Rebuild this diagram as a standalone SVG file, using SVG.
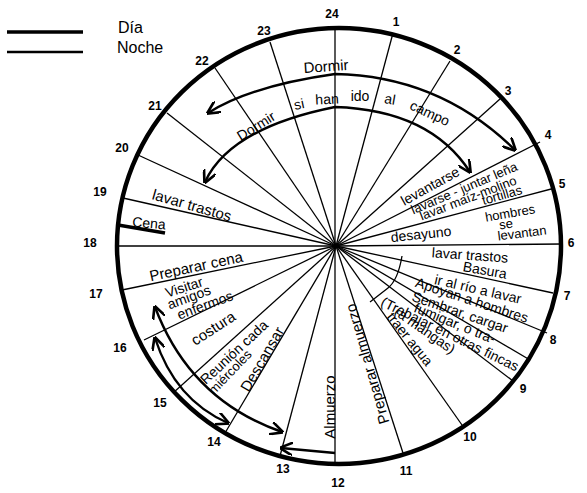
<svg xmlns="http://www.w3.org/2000/svg" width="587" height="493" viewBox="0 0 587 493">
<style>
.t{font-family:"Liberation Sans",Arial,sans-serif;font-size:14px;fill:#000;text-anchor:middle;dominant-baseline:central}
.h{font-family:"Liberation Sans",Arial,sans-serif;font-size:12px;font-weight:bold;fill:#000;text-anchor:middle;dominant-baseline:central}
.r{stroke:#000;stroke-width:1.3;fill:none}
.a{stroke:#000;stroke-width:2.4;fill:none}
</style>
<defs>
<marker id="ar" viewBox="0 0 10 10" refX="9" refY="5" markerWidth="5.5" markerHeight="5.5" orient="auto-start-reverse" markerUnits="strokeWidth">
<path d="M0,0 L10,5 L0,10" fill="none" stroke="#000" stroke-width="2"/>
</marker>
</defs>
<rect width="587" height="493" fill="#fff"/>
<g id="legend">
<line x1="7" y1="32" x2="83" y2="32" stroke="#000" stroke-width="3.5"/>
<line x1="7" y1="52" x2="83" y2="52" stroke="#000" stroke-width="2.7"/>
<text class="t" x="118" y="27" style="text-anchor:start;font-size:16px">Día</text>
<text class="t" x="117" y="47" style="text-anchor:start;font-size:16px">Noche</text>
</g>
<g id="clock">
<ellipse cx="339" cy="246" rx="222" ry="218" fill="none" stroke="#000" stroke-width="4.5"/>
</g>
<g id="connectors">
<g class="r">
<line x1="335" y1="246" x2="335" y2="28"/>
<line x1="336" y1="246" x2="393" y2="33"/>
<line x1="336" y1="246" x2="450" y2="61"/>
<line x1="336" y1="246" x2="500" y2="99"/>
<line x1="336" y1="246" x2="540" y2="142"/>
<line x1="336" y1="246" x2="555" y2="188"/>
<line x1="336" y1="246" x2="562" y2="244"/>
<line x1="336" y1="246" x2="553" y2="293"/>
<line x1="336" y1="246" x2="547" y2="333"/>
<line x1="336" y1="246" x2="530" y2="360"/>
<line x1="336" y1="246" x2="513" y2="381"/>
<line x1="336" y1="246" x2="462" y2="425"/>
<line x1="336" y1="246" x2="403" y2="453"/>
<line x1="335" y1="246" x2="335" y2="465"/>
<line x1="336" y1="246" x2="280" y2="456"/>
<line x1="336" y1="246" x2="225" y2="433"/>
<line x1="336" y1="246" x2="173" y2="393"/>
<line x1="336" y1="246" x2="144" y2="340"/>
<line x1="336" y1="246" x2="122" y2="290"/>
<line x1="336" y1="246" x2="117" y2="246"/>
<line x1="336" y1="246" x2="123" y2="198"/>
<line x1="336" y1="246" x2="138" y2="155"/>
<line x1="336" y1="246" x2="167" y2="113"/>
<line x1="336" y1="246" x2="215" y2="68"/>
<line x1="336" y1="246" x2="270" y2="42"/>
<path d="M402,256 Q398,280 388,288 L370,302"/>
</g>
<path class="a" d="M208,113 Q250,86 335,74 Q440,76 515,150" marker-start="url(#ar)" marker-end="url(#ar)"/>
<path class="a" d="M205,182 Q230,128 335,107 Q430,110 470,172" marker-start="url(#ar)" marker-end="url(#ar)"/>
<path class="a" d="M155,307 Q190,400 282,432" marker-start="url(#ar)" marker-end="url(#ar)"/>
<path class="a" d="M155,338 Q175,400 228,423" marker-start="url(#ar)" marker-end="url(#ar)"/>
<path class="a" d="M335,453 L281,448" marker-end="url(#ar)"/>
<line x1="118" y1="225" x2="165" y2="233" stroke="#000" stroke-width="3.5"/>
</g>
<g id="hours">
<text class="h" x="332" y="14">24</text>
<text class="h" x="396" y="22">1</text>
<text class="h" x="457" y="50">2</text>
<text class="h" x="508" y="91">3</text>
<text class="h" x="548" y="135">4</text>
<text class="h" x="562" y="184">5</text>
<text class="h" x="571" y="243">6</text>
<text class="h" x="567" y="296">7</text>
<text class="h" x="553" y="340">8</text>
<text class="h" x="523" y="389">9</text>
<text class="h" x="470" y="437">10</text>
<text class="h" x="406" y="471">11</text>
<text class="h" x="338" y="483">12</text>
<text class="h" x="283" y="469">13</text>
<text class="h" x="214" y="442">14</text>
<text class="h" x="160" y="403">15</text>
<text class="h" x="120" y="348">16</text>
<text class="h" x="96" y="294">17</text>
<text class="h" x="90" y="243">18</text>
<text class="h" x="100" y="192">19</text>
<text class="h" x="122" y="148">20</text>
<text class="h" x="155" y="106">21</text>
<text class="h" x="202" y="61">22</text>
<text class="h" x="264" y="31">23</text>
</g>
<g id="activities">
<text class="t" transform="translate(326,66) rotate(-4)" style="font-size:15px">Dormir</text>
<text class="t" transform="translate(256,126) rotate(-32)">Dormir</text>
<text class="t" transform="translate(299,104) rotate(-12)">si</text>
<text class="t" transform="translate(327,99) rotate(-3)">han</text>
<text class="t" transform="translate(360,96) rotate(0)">ido</text>
<text class="t" transform="translate(390,99) rotate(10)">al</text>
<text class="t" transform="translate(430,113) rotate(25)">campo</text>
<text class="t" transform="translate(430,186) rotate(-29)">levantarse</text>
<text class="t" transform="translate(464,188) rotate(-23)" style="font-size:13px">lavarse - juntar leña</text>
<text class="t" transform="translate(468,198) rotate(-21)" style="font-size:13px">lavar maíz-molino</text>
<text class="t" transform="translate(502,195) rotate(-16)" style="font-size:13px">tortillas</text>
<text class="t" transform="translate(510,213) rotate(-10)" style="font-size:13px">hombres</text>
<text class="t" transform="translate(506,224) rotate(-8)" style="font-size:13px">se</text>
<text class="t" transform="translate(522,233) rotate(-7)" style="font-size:13px">levantan</text>
<text class="t" transform="translate(421,234) rotate(-6)">desayuno</text>
<text class="t" transform="translate(470,255) rotate(4)">lavar trastos</text>
<text class="t" transform="translate(485,270) rotate(10)">Basura</text>
<text class="t" transform="translate(478,289) rotate(13)">ir al río a lavar</text>
<text class="t" transform="translate(472,300) rotate(18)">Apoyan a hombres</text>
<text class="t" transform="translate(460,312) rotate(19)">Sembrar, cargar</text>
<text class="t" transform="translate(455,323) rotate(22)">fumigar, o tra-</text>
<text class="t" transform="translate(450,334) rotate(26)">(Trabajar en otras fincas</text>
<text class="t" transform="translate(425,330) rotate(35)">(a mangas)</text>
<text class="t" transform="translate(410,339) rotate(51)">traer agua</text>
<text class="t" transform="translate(367,364) rotate(-106)" style="font-size:15px">Preparar almuerzo</text>
<text class="t" transform="translate(329,407) rotate(-90)" style="font-size:15px">Almuerzo</text>
<text class="t" transform="translate(262,359) rotate(-60)" style="font-size:15px">Descansar</text>
<text class="t" transform="translate(234,352) rotate(-43)">Reunión cada</text>
<text class="t" transform="translate(230,372) rotate(-46)" style="font-size:13px">miércoles</text>
<text class="t" transform="translate(213,328) rotate(-33)" style="font-size:15px">costura</text>
<text class="t" transform="translate(184,287) rotate(-18)">Visitar</text>
<text class="t" transform="translate(189,297) rotate(-20)">amigos</text>
<text class="t" transform="translate(205,305) rotate(-20)">enfermos</text>
<text class="t" transform="translate(196,266) rotate(-12)" style="font-size:15px">Preparar cena</text>
<text class="t" transform="translate(149,223) rotate(5)">Cena</text>
<text class="t" transform="translate(192,205) rotate(16)" style="font-size:15px">lavar trastos</text>
</g>
</svg>
